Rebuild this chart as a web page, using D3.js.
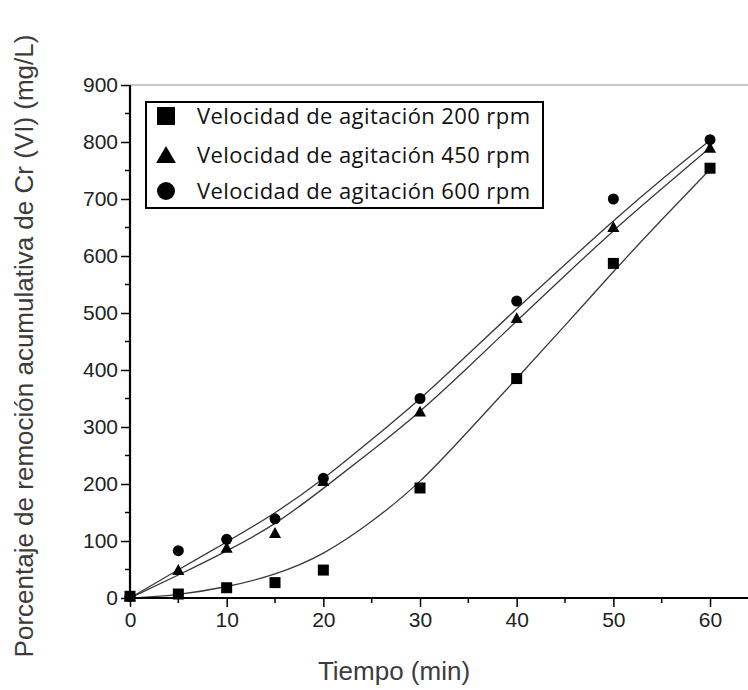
<!DOCTYPE html>
<html>
<head>
<meta charset="utf-8">
<script src="https://cdn.jsdelivr.net/npm/d3@7"></script>
<style>
  html, body { margin: 0; padding: 0; background: #ffffff; }
  svg { display: block; }
</style>
</head>
<body>
<svg id="chart" width="748" height="690"></svg>
<script>
// Sampling times (min)
const times = [0, 5, 10, 15, 20, 30, 40, 50, 60];
// Cumulative Cr(VI) removal (mg/L) for each stirring speed
const rpm200 = [3, 7, 18, 27, 49, 193, 385, 587, 754];
const rpm450 = [3, 49, 88, 114, 205, 327, 491, 651, 790];
const rpm600 = [3, 83, 103, 139, 210, 350, 521, 700, 804];

// Fitted trend curves, sampled every 5 min
const fitTimes = [0, 5, 10, 15, 20, 25, 30, 35, 40, 45, 50, 55, 60];
const fit200 = [0, 5, 19, 40, 75, 133, 201, 293, 385, 478, 573, 664, 752];
const fit450 = [0, 40, 82, 128, 192, 258, 326, 405, 486, 566, 645, 718, 790];
const fit600 = [0, 50, 98, 148, 208, 278, 348, 428, 508, 585, 662, 735, 803];

const seriesNames = [
  "Velocidad de agitación 200 rpm",
  "Velocidad de agitación 450 rpm",
  "Velocidad de agitación 600 rpm"
];
const seriesSymbols = ["square", "triangle", "circle"];

const xTicks = [0, 10, 20, 30, 40, 50, 60];
const xMinor = [5, 15, 25, 35, 45, 55];
const yTicks = [0, 100, 200, 300, 400, 500, 600, 700, 800, 900];
const yMinor = [50, 150, 250, 350, 450, 550, 650, 750, 850];

const xTitle = "Tiempo (min)";
const yTitle = "Porcentaje de remoción acumulativa de Cr (VI) (mg/L)";

const fits = [fit200, fit450, fit600];
const series = [rpm200, rpm450, rpm600].map((vals, i) => ({
  name: seriesNames[i],
  symbol: seriesSymbols[i],
  points: times.map((t, j) => ({ t, v: vals[j] })),
  fit: fitTimes.map((t, j) => ({ t, v: fits[i][j] }))
}));

const svg = d3.select("#chart");
const plotLeft = 130, plotBottom = 598, plotTop = 85;
const x = d3.scaleLinear().domain([0, 64]).range([plotLeft, 748.7]);
const y = d3.scaleLinear().domain([0, 900]).range([plotBottom, plotTop]);

// Frame top line
svg.append("line")
  .attr("x1", x(0)).attr("x2", x(64))
  .attr("y1", y(900)).attr("y2", y(900))
  .attr("stroke", "#b5b5b5").attr("stroke-width", 1.5);

// Trend curves
const plot = svg.append("g");
const line = d3.line().x(d => x(d.t)).y(d => y(d.v)).curve(d3.curveBasis);
series.forEach(s => {
  plot.append("path")
    .attr("d", line(s.fit))
    .attr("fill", "none")
    .attr("stroke", "#3a3a3a")
    .attr("stroke-width", 1.3);
});

// Markers
function drawSymbol(g, type, cx, cy, size) {
  if (type === "square") {
    g.append("rect").attr("x", cx - size / 2).attr("y", cy - size / 2)
      .attr("width", size).attr("height", size).attr("fill", "#000");
  } else if (type === "circle") {
    g.append("circle").attr("cx", cx).attr("cy", cy).attr("r", size / 2).attr("fill", "#000");
  } else {
    const h = size * 0.9, w = size * 1.1;
    g.append("path")
      .attr("d", `M${cx},${cy - h / 2 - 1}L${cx + w / 2},${cy + h / 2}L${cx - w / 2},${cy + h / 2}Z`)
      .attr("fill", "#000");
  }
}
series.forEach(s => {
  s.points.forEach(p => drawSymbol(plot, s.symbol, x(p.t), y(p.v), 11));
});

// Axes
const xAxis = svg.append("g").attr("transform", `translate(0,${plotBottom})`);
xAxis.call(d3.axisBottom(x).tickValues(xTicks).tickSize(9).tickPadding(5).tickFormat(d3.format("d")));
xAxis.append("g").selectAll("line").data(xMinor).join("line")
  .attr("x1", d => x(d)).attr("x2", d => x(d)).attr("y1", 0).attr("y2", 5)
  .attr("stroke", "#000").attr("stroke-width", 1.5);
const yAxis = svg.append("g").attr("transform", `translate(${plotLeft},0)`);
yAxis.call(d3.axisLeft(y).tickValues(yTicks).tickSize(9).tickPadding(3).tickFormat(d3.format("d")));
yAxis.append("g").selectAll("line").data(yMinor).join("line")
  .attr("x1", 0).attr("x2", -5).attr("y1", d => y(d)).attr("y2", d => y(d))
  .attr("stroke", "#000").attr("stroke-width", 1.5);

[xAxis, yAxis].forEach(a => {
  a.select(".domain").attr("stroke", "#000").attr("stroke-width", 2.2);
  a.selectAll(".tick line").attr("stroke", "#000").attr("stroke-width", 1.5);
  a.selectAll(".tick text")
    .attr("font-family", "'Liberation Sans', Arial, sans-serif")
    .attr("font-size", 21).attr("fill", "#222");
});
yAxis.select(".domain").attr("d", `M0,${plotBottom}V${plotTop}`);
xAxis.select(".domain").attr("d", `M${plotLeft},0H${x(64)}`);

// Axis titles
svg.append("text")
  .attr("x", 394).attr("y", 680)
  .attr("text-anchor", "middle")
  .attr("font-family", "'Liberation Sans', Arial, sans-serif")
  .attr("font-size", 26).attr("fill", "#3c3c3c")
  .text(xTitle);
svg.append("text")
  .attr("transform", "translate(33,346) rotate(-90)")
  .attr("text-anchor", "middle")
  .attr("font-family", "'Liberation Sans', Arial, sans-serif")
  .attr("font-size", 26).attr("fill", "#3c3c3c")
  .text(yTitle);

// Legend
const legend = svg.append("g");
legend.append("rect")
  .attr("x", 146).attr("y", 102).attr("width", 397).attr("height", 106)
  .attr("fill", "#fff").attr("stroke", "#000").attr("stroke-width", 2);
const rowY = [116, 155, 191];
series.forEach((s, i) => {
  drawSymbol(legend, s.symbol, 166, rowY[i], 18);
  legend.append("text")
    .attr("x", 197).attr("y", rowY[i] + 7.5)
    .attr("font-family", "'Open Sans', 'Noto Sans', sans-serif")
    .attr("font-size", 22).attr("fill", "#111")
    .attr("textLength", 333).attr("lengthAdjust", "spacing")
    .text(s.name);
});
</script>
</body>
</html>
